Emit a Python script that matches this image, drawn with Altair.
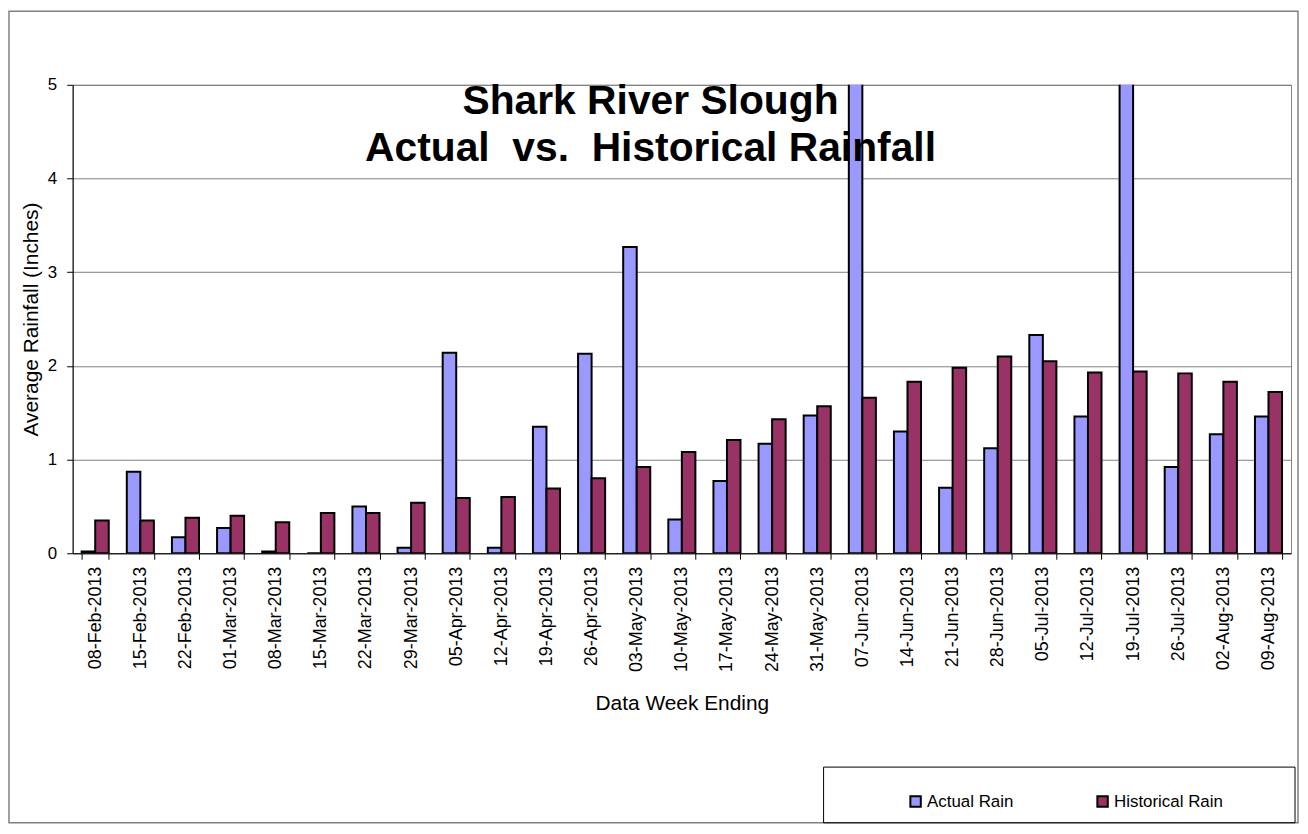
import altair as alt
import pandas as pd

weeks = ["08-Feb-2013", "15-Feb-2013", "22-Feb-2013", "01-Mar-2013", "08-Mar-2013",
         "15-Mar-2013", "22-Mar-2013", "29-Mar-2013", "05-Apr-2013", "12-Apr-2013",
         "19-Apr-2013", "26-Apr-2013", "03-May-2013", "10-May-2013", "17-May-2013",
         "24-May-2013", "31-May-2013", "07-Jun-2013", "14-Jun-2013", "21-Jun-2013",
         "28-Jun-2013", "05-Jul-2013", "12-Jul-2013", "19-Jul-2013", "26-Jul-2013",
         "02-Aug-2013", "09-Aug-2013"]
actual = [0.02, 0.87, 0.17, 0.27, 0.02, 0.0, 0.50, 0.06, 2.14, 0.06,
          1.35, 2.13, 3.27, 0.36, 0.77, 1.17, 1.47, 6.0, 1.30, 0.70,
          1.12, 2.33, 1.46, 6.0, 0.92, 1.27, 1.46]
historical = [0.35, 0.35, 0.38, 0.40, 0.33, 0.43, 0.43, 0.54, 0.59, 0.60,
              0.69, 0.80, 0.92, 1.08, 1.21, 1.43, 1.57, 1.66, 1.83, 1.98,
              2.10, 2.05, 1.93, 1.94, 1.92, 1.83, 1.72]
series = ["Actual Rain", "Historical Rain"]
colors = ["#9999FF", "#993366"]
y_ticks = [0, 1, 2, 3, 4, 5]
title_lines = ["Shark River Slough", "Actual\u00a0 vs.\u00a0 Historical Rainfall"]

rows = []
for w, a, h in zip(weeks, actual, historical):
    rows.append({"week": w, "series": series[0], "value": a})
    rows.append({"week": w, "series": series[1], "value": h})
df = pd.DataFrame(rows)

FONT = "Liberation Sans"
W, H = 1225, 471

bars = alt.Chart(df).mark_bar(clip=True, stroke="black", strokeWidth=2).encode(
    x=alt.X("week:N", sort=weeks,
            scale=alt.Scale(paddingInner=0.4, paddingOuter=0.2),
            axis=alt.Axis(title="Data Week Ending", labelAngle=-90, labelFontSize=18,
                          labelPadding=7, tickBand="extent", tickSize=6,
                          tickColor="black", domainColor="black", titleFontSize=21,
                          titleFontWeight="normal", titlePadding=21, grid=False)),
    xOffset=alt.XOffset("series:N", sort=series, scale=alt.Scale(paddingInner=0, paddingOuter=0)),
    y=alt.Y("value:Q", scale=alt.Scale(domain=[0, 5], nice=False),
            axis=alt.Axis(title="Average Rainfall (Inches)", values=y_ticks, labelFontSize=17,
                          labelPadding=10, tickSize=6, tickColor="black", domainColor="black",
                          gridColor="#808080", titleFontSize=21, titleFontWeight="normal",
                          titlePadding=6)),
    color=alt.Color("series:N", sort=series,
                    scale=alt.Scale(domain=series, range=colors),
                    legend=alt.Legend(title=None, orient="none", legendX=839, legendY=712,
                                      direction="horizontal", symbolType="square",
                                      symbolSize=110, symbolStrokeColor="black",
                                      symbolStrokeWidth=2, labelFontSize=17,
                                      labelOffset=3, columnPadding=80)),
)

one = pd.DataFrame({"k": [0]})

frame = alt.Chart(one).mark_rect(
    fill=None, stroke="#808080", strokeWidth=1.5, clip=False
).encode(x=alt.value(-64), x2=alt.value(1232), y=alt.value(-74), y2=alt.value(742))

legend_box = alt.Chart(one).mark_rect(
    fill=None, stroke="black", strokeWidth=1, clip=False
).encode(x=alt.value(755), x2=alt.value(1229), y=alt.value(686), y2=alt.value(742))

title1 = alt.Chart(one).mark_text(
    font=FONT, fontSize=41, fontWeight="bold", color="black", align="center",
    baseline="alphabetic", clip=False
).encode(x=alt.value(581), y=alt.value(29), text=alt.value(title_lines[0]))

title2 = alt.Chart(one).mark_text(
    font=FONT, fontSize=41, fontWeight="bold", color="black", align="center",
    baseline="alphabetic", clip=False
).encode(x=alt.value(581), y=alt.value(77), text=alt.value(title_lines[1]))

chart = alt.layer(frame, legend_box, bars, title1, title2).properties(
    width=W, height=H,
    autosize=alt.AutoSizeParams(type="none"),
    padding={"left": 65, "top": 75, "right": 9, "bottom": 272},
).configure(font=FONT).configure_view(stroke="#808080", strokeWidth=1).configure_axis(
    labelColor="black", titleColor="black", labelFont=FONT, titleFont=FONT
).configure_legend(labelFont=FONT, labelColor="black")

chart.save("out.html", embed_options={"renderer": "svg", "actions": False})
